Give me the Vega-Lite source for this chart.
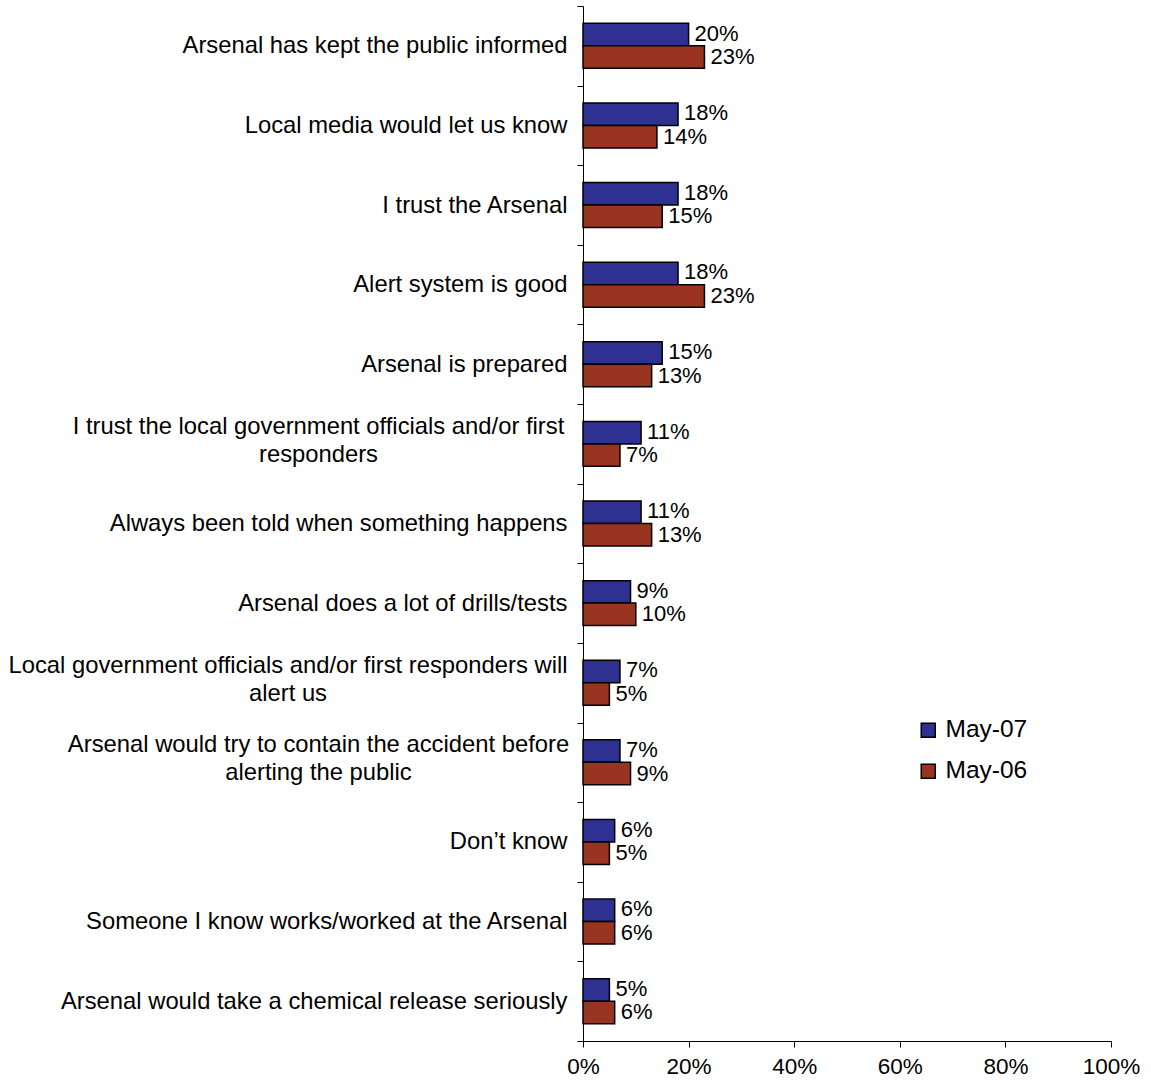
{
  "$schema": "https://vega.github.io/schema/vega-lite/v6.json",
  "autosize": "none",
  "width": 528,
  "height": 1035,
  "padding": {"left": 583, "top": 6, "right": 40, "bottom": 40},
  "background": "white",
  "config": {
    "view": {"stroke": null},
    "font": "Liberation Sans",
    "axis": {"domainColor": "#000000", "tickColor": "#000000", "labelColor": "#000000", "domainWidth": 1, "tickWidth": 1, "grid": false}
  },
  "data": {
    "values": [
      {"item": "Arsenal has kept the public informed", "series": "May-07", "value": 0.20},
      {"item": "Arsenal has kept the public informed", "series": "May-06", "value": 0.23},
      {"item": "Local media would let us know", "series": "May-07", "value": 0.18},
      {"item": "Local media would let us know", "series": "May-06", "value": 0.14},
      {"item": "I trust the Arsenal", "series": "May-07", "value": 0.18},
      {"item": "I trust the Arsenal", "series": "May-06", "value": 0.15},
      {"item": "Alert system is good", "series": "May-07", "value": 0.18},
      {"item": "Alert system is good", "series": "May-06", "value": 0.23},
      {"item": "Arsenal is prepared", "series": "May-07", "value": 0.15},
      {"item": "Arsenal is prepared", "series": "May-06", "value": 0.13},
      {"item": "I trust the local government officials and/or first|responders", "series": "May-07", "value": 0.11},
      {"item": "I trust the local government officials and/or first|responders", "series": "May-06", "value": 0.07},
      {"item": "Always been told when something happens", "series": "May-07", "value": 0.11},
      {"item": "Always been told when something happens", "series": "May-06", "value": 0.13},
      {"item": "Arsenal does a lot of drills/tests", "series": "May-07", "value": 0.09},
      {"item": "Arsenal does a lot of drills/tests", "series": "May-06", "value": 0.10},
      {"item": "Local government officials and/or first responders will|alert us", "series": "May-07", "value": 0.07},
      {"item": "Local government officials and/or first responders will|alert us", "series": "May-06", "value": 0.05},
      {"item": "Arsenal would try to contain the accident before|alerting the public", "series": "May-07", "value": 0.07},
      {"item": "Arsenal would try to contain the accident before|alerting the public", "series": "May-06", "value": 0.09},
      {"item": "Don’t know", "series": "May-07", "value": 0.06},
      {"item": "Don’t know", "series": "May-06", "value": 0.05},
      {"item": "Someone I know works/worked at the Arsenal", "series": "May-07", "value": 0.06},
      {"item": "Someone I know works/worked at the Arsenal", "series": "May-06", "value": 0.06},
      {"item": "Arsenal would take a chemical release seriously", "series": "May-07", "value": 0.05},
      {"item": "Arsenal would take a chemical release seriously", "series": "May-06", "value": 0.06}
    ]
  },
  "encoding": {
    "yOffset": {"field": "series", "type": "nominal", "sort": ["May-07", "May-06"], "scale": {"domain": ["May-07", "May-06"], "paddingInner": 0, "paddingOuter": 0.77}},
    "x": {
      "field": "value", "type": "quantitative", "title": null,
      "scale": {"domain": [0, 1], "nice": false},
      "axis": {"format": ".0%", "values": [0, 0.2, 0.4, 0.6, 0.8, 1], "labelFontSize": 22.5, "tickSize": 6, "labelPadding": 8, "labelFlush": false}
    }
  },
  "layer": [
    {
      "mark": {"type": "bar", "stroke": "#000000", "strokeWidth": 1.5},
      "encoding": {
        "y": {
          "field": "item", "type": "nominal", "sort": null, "title": null,
          "scale": {"paddingInner": 0, "paddingOuter": 0},
          "axis": {
            "orient": "left",
            "labelExpr": "indexof(datum.label, '|') >= 0 ? '' : datum.label",
            "labelFontSize": 23.8, "labelLimit": 700, "labelPadding": 10,
            "tickBand": "extent", "tickSize": 6
          }
        },
        "color": {
          "field": "series", "type": "nominal",
          "scale": {"domain": ["May-07", "May-06"], "range": ["#2e3191", "#983420"]},
          "legend": {
            "title": null, "orient": "none", "legendX": 333, "legendY": 712,
            "symbolType": "square", "symbolSize": 196, "symbolStrokeColor": "#000000", "symbolStrokeWidth": 1.5,
            "labelFontSize": 24.5, "labelColor": "#000000", "labelOffset": 5, "rowPadding": 16
          }
        }
      }
    },
    {
      "transform": [{"filter": "datum.series == 'May-07'"}],
      "mark": {"type": "text", "align": "left", "baseline": "middle", "dx": 6, "dy": -1, "fontSize": 22, "color": "#000000"},
      "encoding": {
        "y": {
          "field": "item", "type": "nominal", "sort": null, "title": null,
          "axis": {
            "orient": "left",
            "labelExpr": "(indexof(datum.label, 'I trust the local') == 0 || indexof(datum.label, 'Arsenal would try') == 0) ? split(datum.label, '|') : ''",
            "labelFontSize": 23.8, "labelLimit": 700, "labelAlign": "center", "labelPadding": 259,
            "labelOffset": -17, "labelLineHeight": 28,
            "domain": false, "tickOpacity": 0, "tickSize": 6
          }
        },
        "text": {"field": "value", "type": "quantitative", "format": ".0%"}
      }
    },
    {
      "transform": [{"filter": "datum.series == 'May-06'"}],
      "mark": {"type": "text", "align": "left", "baseline": "middle", "dx": 6, "fontSize": 22, "color": "#000000"},
      "encoding": {
        "y": {
          "field": "item", "type": "nominal", "sort": null, "title": null,
          "axis": {
            "orient": "left",
            "labelExpr": "indexof(datum.label, 'Local government') == 0 ? split(datum.label, '|') : ''",
            "labelFontSize": 23.8, "labelLimit": 700, "labelAlign": "center", "labelPadding": 289.5,
            "labelOffset": -17, "labelLineHeight": 28,
            "domain": false, "tickOpacity": 0, "tickSize": 6
          }
        },
        "text": {"field": "value", "type": "quantitative", "format": ".0%"}
      }
    }
  ],
  "resolve": {"axis": {"y": "independent"}}
}
